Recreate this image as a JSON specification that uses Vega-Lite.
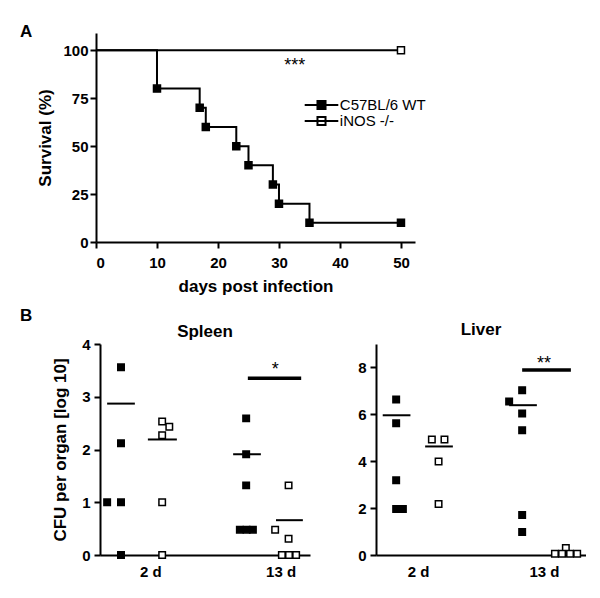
{
  "$schema": "https://vega.github.io/schema/vega-lite/v6.json",
  "background": "white",
  "padding": {"left": 20, "top": 23, "right": 0, "bottom": 0},
  "config": {
    "view": {"stroke": null},
    "font": "Liberation Sans",
    "axis": {
      "grid": false,
      "domainColor": "black", "domainWidth": 2,
      "tickColor": "black", "tickWidth": 2, "tickSize": 6,
      "labelFont": "Liberation Sans", "labelFontWeight": "bold", "labelFontSize": 15, "labelColor": "black",
      "titleFont": "Liberation Sans", "titleFontWeight": "bold", "titleFontSize": 17, "titleColor": "black"
    },
    "title": {"font": "Liberation Sans", "fontWeight": "bold", "fontSize": 17, "color": "black"},
    "legend": {"labelFont": "Liberation Sans", "labelFontSize": 15, "labelColor": "black"}
  },
  "datasets": {
    "surv": [
      {"day": 0, "pct": 100, "group": "C57BL/6 WT", "m": false},
      {"day": 10, "pct": 80, "group": "C57BL/6 WT", "m": true},
      {"day": 17, "pct": 70, "group": "C57BL/6 WT", "m": true},
      {"day": 18, "pct": 60, "group": "C57BL/6 WT", "m": true},
      {"day": 23, "pct": 50, "group": "C57BL/6 WT", "m": true},
      {"day": 25, "pct": 40, "group": "C57BL/6 WT", "m": true},
      {"day": 29, "pct": 30, "group": "C57BL/6 WT", "m": true},
      {"day": 30, "pct": 20, "group": "C57BL/6 WT", "m": true},
      {"day": 35, "pct": 10, "group": "C57BL/6 WT", "m": true},
      {"day": 50, "pct": 10, "group": "C57BL/6 WT", "m": true},
      {"day": 0, "pct": 100, "group": "iNOS -/-", "m": false},
      {"day": 50, "pct": 100, "group": "iNOS -/-", "m": true}
    ],
    "survstar": [{"day": 32.6, "pct": 89, "t": "***"}],
    "cfu": [
      {"organ": "Spleen", "x": 0.5, "v": 3.56, "group": "C57BL/6 WT"},
      {"organ": "Spleen", "x": 0.5, "v": 2.12, "group": "C57BL/6 WT"},
      {"organ": "Spleen", "x": 0.17, "v": 1.0, "group": "C57BL/6 WT"},
      {"organ": "Spleen", "x": 0.5, "v": 1.0, "group": "C57BL/6 WT"},
      {"organ": "Spleen", "x": 0.5, "v": 0.0, "group": "C57BL/6 WT"},
      {"organ": "Spleen", "x": 1.48, "v": 2.53, "group": "iNOS -/-"},
      {"organ": "Spleen", "x": 1.65, "v": 2.43, "group": "iNOS -/-"},
      {"organ": "Spleen", "x": 1.48, "v": 2.27, "group": "iNOS -/-"},
      {"organ": "Spleen", "x": 1.48, "v": 1.0, "group": "iNOS -/-"},
      {"organ": "Spleen", "x": 1.48, "v": 0.0, "group": "iNOS -/-"},
      {"organ": "Spleen", "x": 3.48, "v": 2.59, "group": "C57BL/6 WT"},
      {"organ": "Spleen", "x": 3.48, "v": 1.91, "group": "C57BL/6 WT"},
      {"organ": "Spleen", "x": 3.48, "v": 1.32, "group": "C57BL/6 WT"},
      {"organ": "Spleen", "x": 3.33, "v": 0.48, "group": "C57BL/6 WT"},
      {"organ": "Spleen", "x": 3.49, "v": 0.48, "group": "C57BL/6 WT"},
      {"organ": "Spleen", "x": 3.64, "v": 0.48, "group": "C57BL/6 WT"},
      {"organ": "Spleen", "x": 4.49, "v": 1.32, "group": "iNOS -/-"},
      {"organ": "Spleen", "x": 4.17, "v": 0.48, "group": "iNOS -/-"},
      {"organ": "Spleen", "x": 4.49, "v": 0.31, "group": "iNOS -/-"},
      {"organ": "Spleen", "x": 4.33, "v": 0.0, "group": "iNOS -/-"},
      {"organ": "Spleen", "x": 4.5, "v": 0.0, "group": "iNOS -/-"},
      {"organ": "Spleen", "x": 4.67, "v": 0.0, "group": "iNOS -/-"},
      {"organ": "Liver", "x": 0.48, "v": 6.63, "group": "C57BL/6 WT"},
      {"organ": "Liver", "x": 0.48, "v": 5.62, "group": "C57BL/6 WT"},
      {"organ": "Liver", "x": 0.48, "v": 3.19, "group": "C57BL/6 WT"},
      {"organ": "Liver", "x": 0.48, "v": 1.96, "group": "C57BL/6 WT"},
      {"organ": "Liver", "x": 0.64, "v": 1.96, "group": "C57BL/6 WT"},
      {"organ": "Liver", "x": 1.33, "v": 4.93, "group": "iNOS -/-"},
      {"organ": "Liver", "x": 1.63, "v": 4.93, "group": "iNOS -/-"},
      {"organ": "Liver", "x": 1.49, "v": 3.99, "group": "iNOS -/-"},
      {"organ": "Liver", "x": 1.49, "v": 2.18, "group": "iNOS -/-"},
      {"organ": "Liver", "x": 3.48, "v": 7.03, "group": "C57BL/6 WT"},
      {"organ": "Liver", "x": 3.17, "v": 6.55, "group": "C57BL/6 WT"},
      {"organ": "Liver", "x": 3.48, "v": 6.04, "group": "C57BL/6 WT"},
      {"organ": "Liver", "x": 3.48, "v": 5.32, "group": "C57BL/6 WT"},
      {"organ": "Liver", "x": 3.48, "v": 1.71, "group": "C57BL/6 WT"},
      {"organ": "Liver", "x": 3.48, "v": 0.98, "group": "C57BL/6 WT"},
      {"organ": "Liver", "x": 4.52, "v": 0.3, "group": "iNOS -/-"},
      {"organ": "Liver", "x": 4.26, "v": 0.05, "group": "iNOS -/-"},
      {"organ": "Liver", "x": 4.43, "v": 0.05, "group": "iNOS -/-"},
      {"organ": "Liver", "x": 4.62, "v": 0.05, "group": "iNOS -/-"},
      {"organ": "Liver", "x": 4.79, "v": 0.05, "group": "iNOS -/-"}
    ],
    "bars": [
      {"organ": "Spleen", "x": 0.17, "xe": 0.83, "v": 2.87, "k": "mean"},
      {"organ": "Spleen", "x": 1.14, "xe": 1.83, "v": 2.19, "k": "mean"},
      {"organ": "Spleen", "x": 3.17, "xe": 3.83, "v": 1.91, "k": "mean"},
      {"organ": "Spleen", "x": 4.19, "xe": 4.83, "v": 0.66, "k": "mean"},
      {"organ": "Spleen", "x": 3.52, "xe": 4.79, "v": 3.35, "k": "sig"},
      {"organ": "Liver", "x": 0.16, "xe": 0.82, "v": 5.96, "k": "mean"},
      {"organ": "Liver", "x": 1.17, "xe": 1.83, "v": 4.63, "k": "mean"},
      {"organ": "Liver", "x": 3.17, "xe": 3.83, "v": 6.39, "k": "mean"},
      {"organ": "Liver", "x": 4.19, "xe": 4.83, "v": 0.08, "k": "mean"},
      {"organ": "Liver", "x": 3.48, "xe": 4.64, "v": 7.89, "k": "sig"}
    ],
    "stars": [
      {"organ": "Spleen", "x": 4.17, "v": 3.41, "t": "*"},
      {"organ": "Liver", "x": 4.0, "v": 7.94, "t": "**"}
    ]
  },
  "spacing": 13,
  "vconcat": [
    {
      "width": 319, "height": 209,
      "title": {"text": "A", "anchor": "start", "frame": "group", "orient": "top", "baseline": "alphabetic", "offset": 0, "dx": -80, "dy": 21},
      "layer": [
        {
          "data": {"name": "surv"},
          "mark": {"type": "line", "interpolate": "step-after", "color": "black", "strokeWidth": 2},
          "encoding": {
            "x": {"field": "day", "type": "quantitative", "scale": {"domain": [0, 52.3], "range": [-4, 315], "nice": false, "zero": false},
                  "axis": {"values": [0, 10, 20, 30, 40, 50], "title": "days post infection", "labelPadding": 7, "titlePadding": 8}},
            "y": {"field": "pct", "type": "quantitative", "scale": {"domain": [0, 109], "nice": false},
                  "axis": {"values": [0, 25, 50, 75, 100], "title": "Survival (%)", "offset": 4, "labelPadding": 2, "titlePadding": 8}},
            "detail": {"field": "group"}
          }
        },
        {
          "data": {"name": "surv"},
          "transform": [{"filter": "datum.m"}],
          "mark": {"type": "point", "shape": "square", "filled": true, "size": 49, "stroke": "black", "strokeWidth": 1.5, "opacity": 1},
          "encoding": {
            "x": {"field": "day", "type": "quantitative"},
            "y": {"field": "pct", "type": "quantitative"},
            "fill": {
              "field": "group", "type": "nominal",
              "scale": {"domain": ["C57BL/6 WT", "iNOS -/-"], "range": ["black", "white"]},
              "legend": {
                "title": null, "orient": "none", "legendX": 214, "legendY": 64.5, "padding": 0,
                "rowPadding": -10, "symbolSize": 144, "labelOffset": 10.8, "labelFontSize": 15, "labelFontWeight": "normal",
                "symbolType": "M-2.8,0H2.8M-0.67,-0.67H0.67V0.67H-0.67Z",
                "symbolStrokeColor": "black", "symbolStrokeWidth": 2, "symbolOpacity": 1
              }
            }
          }
        },
        {
          "data": {"name": "survstar"},
          "mark": {"type": "text", "fontSize": 18, "baseline": "alphabetic", "align": "center", "color": "black"},
          "encoding": {
            "x": {"field": "day", "type": "quantitative"},
            "y": {"field": "pct", "type": "quantitative"},
            "text": {"field": "t"}
          }
        }
      ]
    },
    {
      "title": {"text": "B", "anchor": "start", "frame": "group", "orient": "top", "baseline": "alphabetic", "offset": 3, "dx": -80, "dy": 20},
      "spacing": 47,
      "hconcat": [
        {
          "width": 210, "height": 211,
          "title": {"text": "Spleen", "anchor": "middle", "baseline": "alphabetic", "offset": 2, "dy": 19},
          "layer": [
            {
              "data": {"name": "bars"},
              "transform": [{"filter": "datum.organ == 'Spleen'"}],
              "mark": {"type": "rule", "color": "black"},
              "encoding": {
                "x": {"field": "x", "type": "quantitative", "scale": {"domain": [0, 5], "nice": false, "zero": false},
                      "axis": {"values": [1.2, 4.3], "labelExpr": "datum.value < 2 ? '2 d' : '13 d'", "ticks": false, "title": null, "labelPadding": 9}},
                "x2": {"field": "xe"},
                "y": {"field": "v", "type": "quantitative", "scale": {"domain": [0, 4], "nice": false},
                      "axis": {"values": [0, 1, 2, 3, 4], "format": "d", "title": "CFU per organ [log 10]", "labelPadding": 4, "titlePadding": 12}},
                "strokeWidth": {"field": "k", "type": "nominal", "scale": {"domain": ["mean", "sig"], "range": [2, 3.5]}, "legend": null}
              }
            },
            {
              "data": {"name": "cfu"},
              "transform": [{"filter": "datum.organ == 'Spleen'"}],
              "mark": {"type": "point", "shape": "square", "filled": true, "size": 42, "stroke": "black", "strokeWidth": 1.5, "opacity": 1},
              "encoding": {
                "x": {"field": "x", "type": "quantitative"},
                "y": {"field": "v", "type": "quantitative"},
                "fill": {"field": "group", "type": "nominal", "legend": null}
              }
            },
            {
              "data": {"name": "stars"},
              "transform": [{"filter": "datum.organ == 'Spleen'"}],
              "mark": {"type": "text", "fontSize": 18, "baseline": "alphabetic", "align": "center", "color": "black"},
              "encoding": {
                "x": {"field": "x", "type": "quantitative"},
                "y": {"field": "v", "type": "quantitative"},
                "text": {"field": "t"}
              }
            }
          ]
        },
        {
          "width": 210, "height": 211,
          "title": {"text": "Liver", "anchor": "middle", "baseline": "alphabetic", "offset": 2, "dy": 10},
          "layer": [
            {
              "data": {"name": "bars"},
              "transform": [{"filter": "datum.organ == 'Liver'"}],
              "mark": {"type": "rule", "color": "black"},
              "encoding": {
                "x": {"field": "x", "type": "quantitative", "scale": {"domain": [0, 5], "nice": false, "zero": false},
                      "axis": {"values": [1.0, 4.0], "labelExpr": "datum.value < 2 ? '2 d' : '13 d'", "ticks": false, "title": null, "labelPadding": 9}},
                "x2": {"field": "xe"},
                "y": {"field": "v", "type": "quantitative", "scale": {"domain": [0, 9], "nice": false},
                      "axis": {"values": [0, 2, 4, 6, 8], "format": "d", "title": null, "labelPadding": 4}},
                "strokeWidth": {"field": "k", "type": "nominal", "scale": {"domain": ["mean", "sig"], "range": [2, 3.5]}, "legend": null}
              }
            },
            {
              "data": {"name": "cfu"},
              "transform": [{"filter": "datum.organ == 'Liver'"}],
              "mark": {"type": "point", "shape": "square", "filled": true, "size": 42, "stroke": "black", "strokeWidth": 1.5, "opacity": 1},
              "encoding": {
                "x": {"field": "x", "type": "quantitative"},
                "y": {"field": "v", "type": "quantitative"},
                "fill": {"field": "group", "type": "nominal", "legend": null}
              }
            },
            {
              "data": {"name": "stars"},
              "transform": [{"filter": "datum.organ == 'Liver'"}],
              "mark": {"type": "text", "fontSize": 18, "baseline": "alphabetic", "align": "center", "color": "black"},
              "encoding": {
                "x": {"field": "x", "type": "quantitative"},
                "y": {"field": "v", "type": "quantitative"},
                "text": {"field": "t"}
              }
            }
          ]
        }
      ]
    }
  ]
}
